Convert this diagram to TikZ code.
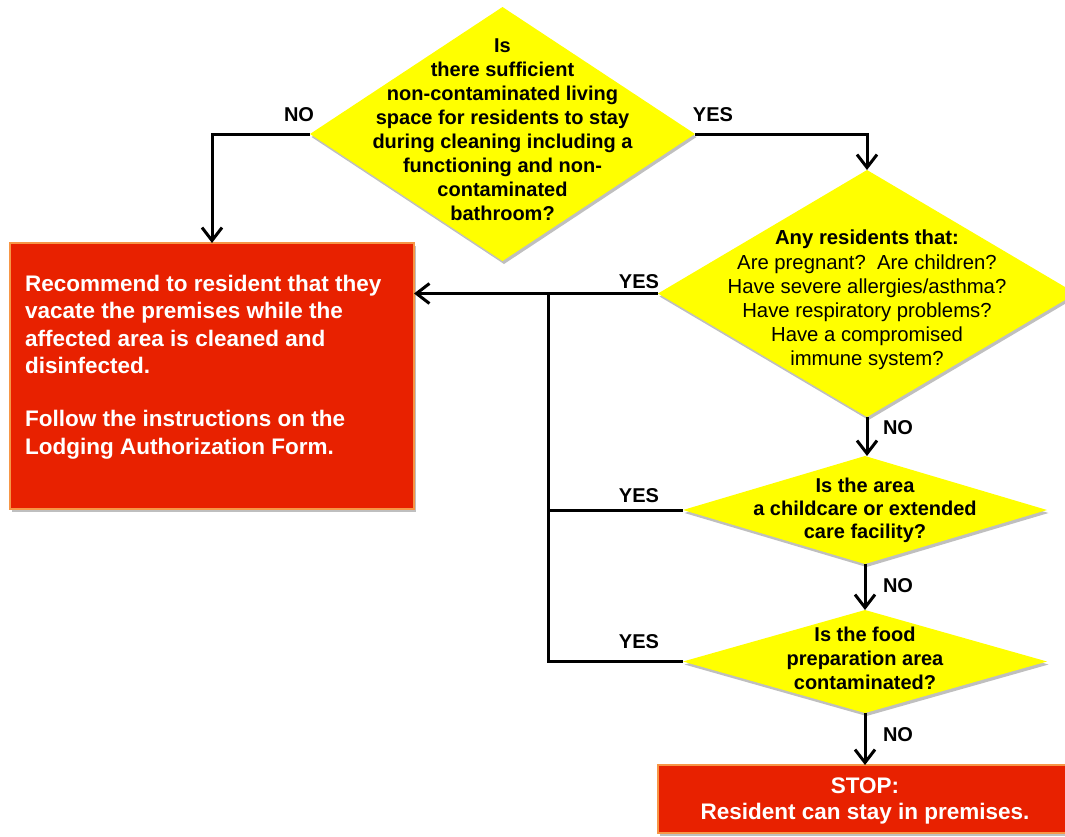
\documentclass[tikz,border=0pt]{standalone}
\usepackage{fontspec}
\setmainfont{Liberation Sans}
\usetikzlibrary{arrows.meta,shapes.geometric,shadows,calc}
\definecolor{dyel}{RGB}{255,255,0}
\definecolor{bred}{RGB}{232,33,0}
\definecolor{bord}{RGB}{247,150,70}
\begin{document}
\begin{tikzpicture}[x=1pt,y=-1pt,
  shad/.style={drop shadow={shadow xshift=1.5pt,shadow yshift=-3pt,opacity=0.25,fill=black}},
  decision/.style={diamond, fill=dyel, draw=none, inner sep=0pt, outer sep=0pt, shad},
  redbox/.style={rectangle, fill=bred, draw=bord, line width=2.5pt, inner sep=0pt, outer sep=0pt, shad},
  qtext/.style={inner sep=0pt, align=center, font=\fontsize{20}{24}\selectfont\bfseries},
  lbl/.style={inner sep=0pt, font=\fontsize{20}{24}\selectfont\bfseries},
  conn/.style={line width=3pt},
  arr/.style={conn, -{Straight Barb[length=13pt,width=20pt]}}
]
\useasboundingbox (0,0) rectangle (1065,836);
\fill[white] (0,0) rectangle (1065,836);

% shapes
\node[decision, minimum width=385pt, minimum height=254pt] (d1) at (502.5,134) {};
\node[decision, minimum width=418pt, minimum height=247pt] (d2) at (867,293.5) {};
\node[decision, minimum width=364pt, minimum height=108pt] (d3) at (865,510) {};
\node[decision, minimum width=364pt, minimum height=103pt] (d4) at (865,661.5) {};
\node[redbox, minimum width=404pt, minimum height=266pt] (rec) at (212,376) {};
\node[redbox, minimum width=414pt, minimum height=68pt] (stop) at (865,799) {};

% texts
\node[qtext, anchor=north] (t1) at (502.5,39) {Is\\there sufficient\\non-contaminated living\\space for residents to stay\\during cleaning including a\\functioning and non-\\contaminated\\bathroom?};
\node[inner sep=0pt, align=center, font=\fontsize{20.3}{24.2}\selectfont, anchor=north] (t2) at (867,230) {\textbf{Any residents that:}\\Are pregnant?\ \ Are children?\\Have severe allergies/asthma?\\Have respiratory problems?\\Have a compromised\\immune system?};
\node[inner sep=0pt, align=center, font=\fontsize{20}{23}\selectfont\bfseries, anchor=north] (t3) at (865,478) {Is the area\\a childcare or extended\\care facility?};
\node[inner sep=0pt, align=center, font=\fontsize{20}{24}\selectfont\bfseries, anchor=north] (t4) at (865,627) {Is the food\\preparation area\\contaminated?};
\node[inner sep=0pt, align=left, text=white, font=\fontsize{22.5}{27.3}\selectfont\bfseries, anchor=north west] (t5) at (25,275) {Recommend to resident that they\\vacate the premises while the\\affected area is cleaned and\\disinfected.\\[26pt]Follow the instructions on the\\Lodging Authorization Form.};
\node[inner sep=0pt, align=center, text=white, font=\fontsize{22.5}{26}\selectfont\bfseries] (t6) at (865,801) {STOP:\\Resident can stay in premises.};

% connectors
\coordinate (bt) at (548,293.5);
\draw[arr] (d1.west) -| (rec.north);
\draw[arr] (d1.east) -| (d2.north);
\draw[arr] (d2.west) -- (d2.west -| rec.east);
\draw[conn] (d4.west) -| (bt);
\draw[conn] (d3.west) -- (d3.west -| bt);
\draw[arr] (d2.south) -- (d2.south |- d3.north);
\draw[arr] (d3.south) -- (d4.north);
\draw[arr] (d4.south) -- (stop.north);

% labels
\node[lbl] (l1) at (299,115) {NO};
\node[lbl] (l2) at (713,115) {YES};
\node[lbl] (l3) at (639,282) {YES};
\node[lbl] (l4) at (898,428) {NO};
\node[lbl] (l5) at (639,496) {YES};
\node[lbl] (l6) at (898,586) {NO};
\node[lbl] (l7) at (639,642) {YES};
\node[lbl] (l8) at (898,735) {NO};
\end{tikzpicture}
\end{document}
